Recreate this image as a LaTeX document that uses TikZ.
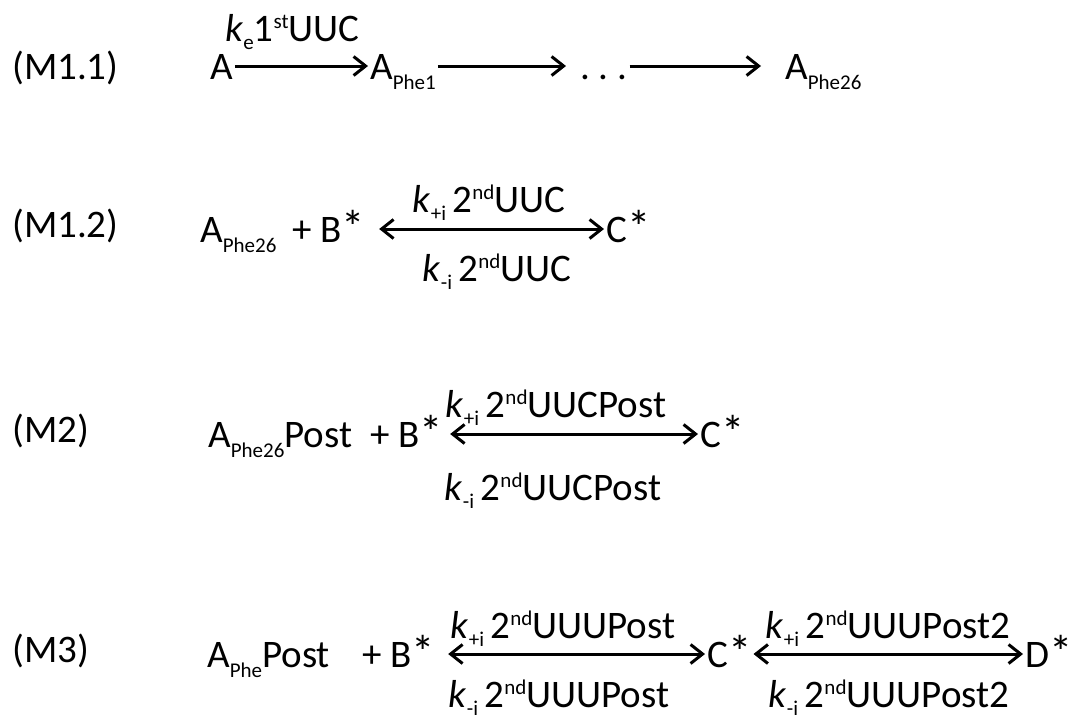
\documentclass[tikz,border=0pt]{standalone}
\usepackage{fontspec}
\usepackage{graphicx}
\setmainfont{Carlito}
\usetikzlibrary{arrows.meta,calc}
\newcommand\lo[1]{\raisebox{-0.28em}{\fontsize{21}{21}\selectfont #1}}
\newcommand\klo[1]{\raisebox{-0.22em}{\fontsize{21}{21}\selectfont #1}}
\newcommand\hi[1]{\raisebox{0.33em}{\fontsize{21}{21}\selectfont #1}}
\newcommand\astk{\raisebox{-0.05em}{\scalebox{1.2}{*}}}
\tikzset{
  txt/.style={font=\fontsize{39}{46}\selectfont, anchor=base west, inner xsep=2pt, inner ysep=0pt, text height=26pt, text depth=0pt},
  lbl/.style={font=\fontsize{39}{46}\selectfont, anchor=base, inner sep=0pt},
  tip/.tip={Straight Barb[length=12pt,width=19pt,line width=3pt]},
  rxn/.style={line width=3pt, -tip},
  rev/.style={line width=3pt, tip-tip}
}
\begin{document}
\begin{tikzpicture}[x=1pt,y=-1pt]
\useasboundingbox (0,0) rectangle (1076,724);
% ---- M1.1
\node[txt] (m11) at (10,79) {(M1.1)};
\node[txt] (a0) at (208,79) {A};
\node[txt] (a1) at (368,79) {A\lo{Phe1}};
\node[txt] (dots) at (578,79) {.\ .\ .};
\node[txt] (a26) at (783,79) {A\lo{Phe26}};
\draw[rxn] (a0.east) -- (a1.west);
\draw[rxn, shorten >=12pt] (a1.east) -- (dots.west);
\draw[rxn, shorten >=22pt] (dots.east) -- (a26.west);
\node[lbl, anchor=base west] (k1) at (225,41) {\textit{k}\klo{e}1\hi{st}UUC};
% ---- M1.2
\node[txt] (m12) at (10,237) {(M1.2)};
\node[txt] (a26b) at (198,242) {A\lo{Phe26}};
\node[txt] (b2) at (290,242) {+ B\astk};
\node[txt] (c2) at (604,242) {C\astk};
\draw[rev, shorten <=12pt] (b2.east) -- (c2.west);
\node[lbl] (k2p) at (489,212) {\textit{k}\klo{+i}\,2\hi{nd}UUC};
\node[lbl] (k2m) at (497,281) {\textit{k}\klo{-i}\,2\hi{nd}UUC};
% ---- M2
\node[txt] (m2) at (10,442) {(M2)};
\node[txt] (a26p) at (206,447) {A\lo{Phe26}Post};
\node[txt] (b3) at (368,447) {+ B\astk};
\node[txt] (c3) at (698,447) {C\astk};
\draw[rev, shorten <=5pt] (b3.east) -- (c3.west);
\node[lbl] (k3p) at (556,417) {\textit{k}\klo{+i}\,2\hi{nd}UUCPost};
\node[lbl] (k3m) at (553,500) {\textit{k}\klo{-i}\,2\hi{nd}UUCPost};
% ---- M3
\node[txt] (m3) at (10,662) {(M3)};
\node[txt] (ap) at (205,667) {A\lo{Phe}Post};
\node[txt] (b4) at (360,667) {+ B\astk};
\node[txt] (c4) at (705,667) {C\astk};
\node[txt] (d4) at (1023,667) {D\astk};
\draw[rev, shorten <=11pt] (b4.east) -- (c4.west);
\draw[rev] (c4.east) -- (d4.west);
\node[lbl] (k4p) at (563,638) {\textit{k}\klo{+i}\,2\hi{nd}UUUPost};
\node[lbl] (k4m) at (559,707) {\textit{k}\klo{-i}\,2\hi{nd}UUUPost};
\node[lbl] (k5p) at (888,638) {\textit{k}\klo{+i}\,2\hi{nd}UUUPost2};
\node[lbl] (k5m) at (889,707) {\textit{k}\klo{-i}\,2\hi{nd}UUUPost2};
\end{tikzpicture}
\end{document}
